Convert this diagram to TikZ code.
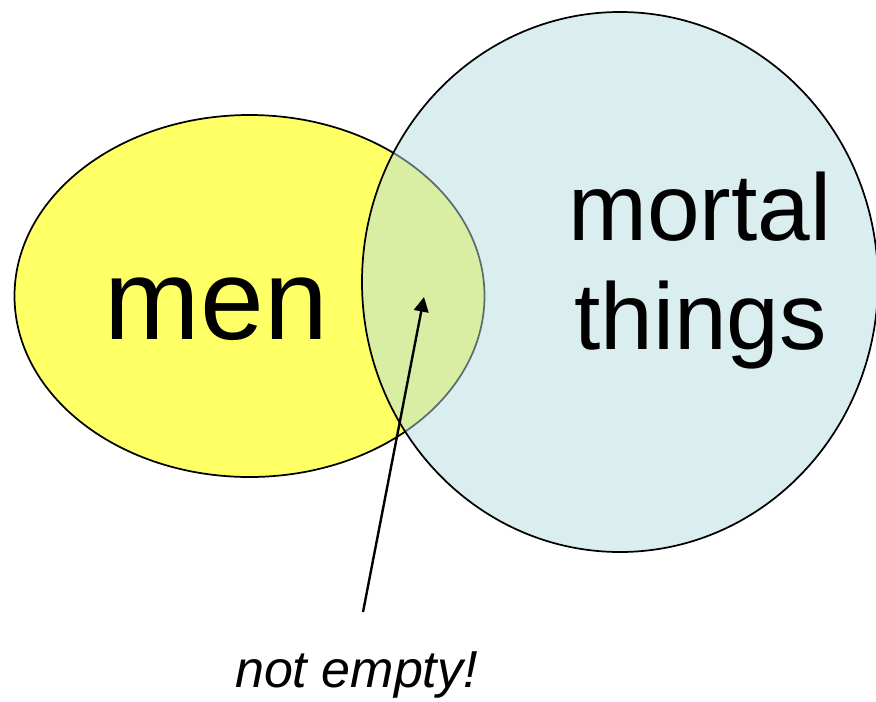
\documentclass[tikz,border=0pt]{standalone}
\usepackage{fontspec}
\setmainfont{Liberation Sans}
\usetikzlibrary{shapes.geometric,arrows.meta}
\definecolor{menyellow}{RGB}{255,255,102}
\definecolor{mortalblue}{RGB}{181,221,225}

\begin{document}
\begin{tikzpicture}[x=0.75pt, y=-0.75pt]
  \useasboundingbox (0,0) rectangle (876,701);
  % Sets
  \node[draw, ellipse, line width=1.3pt, fill=menyellow, inner sep=0pt, minimum width=352.5pt, minimum height=271.5pt] (men) at (249.5,296) {};
  \node[draw, ellipse, line width=1.3pt, fill=mortalblue, fill opacity=0.5, inner sep=0pt, minimum width=387pt, minimum height=405pt] (mortal) at (620,282) {};

  % Labels
  \node[anchor=base, font=\fontsize{86}{94}\selectfont] (menlabel) at (216.5,339) {men};
  \node[anchor=base, font=\fontsize{71}{78}\selectfont] (mortallabel) at (700,240) {mortal};
  \node[anchor=base, font=\fontsize{71}{78}\selectfont] (thingslabel) at (700.5,349) {things};
  \node[anchor=base, font=\fontsize{39}{43}\selectfont\itshape] (note) at (356.5,687) {not empty!};

  % Arrow
  \coordinate (tail) at (363,612);
  \coordinate (tip) at (424,297);
  \draw[-{Triangle[length=11pt,width=11pt]}, line width=1.8pt] (tail) -- (tip);
\end{tikzpicture}
\end{document}
